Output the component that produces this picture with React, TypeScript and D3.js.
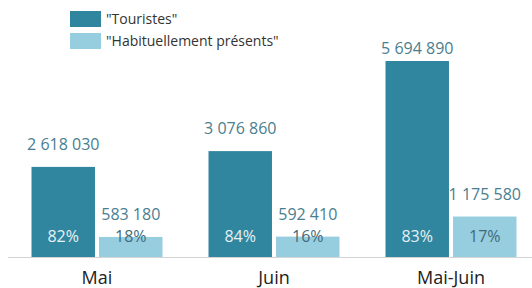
// Grouped bars: Touristes vs Habituellement présents, per month
import React, { useEffect, useRef } from 'react';
import * as d3 from 'd3';

const categories = ['Mai', 'Juin', 'Mai-Juin'];
const series = ['"Touristes"', '"Habituellement présents"'];
const touristes = [2618030, 3076860, 5694890];
const habituels = [583180, 592410, 1175580];
const pctTouristes = ['82%', '84%', '83%'];
const pctHabituels = ['18%', '16%', '17%'];

const colors = ['#31869f', '#96cddf'];
const fmt = (v: number) => d3.format(',')(v).replace(/,/g, ' ');

const App: React.FC = () => {
  const svgRef = useRef<SVGSVGElement>(null);

  useEffect(() => {
    const svg = d3.select(svgRef.current);
    svg.selectAll('*').remove();

    const width = 532;
    const height = 288;
    const baseY = 257;
    const font = '"Open Sans", sans-serif';

    const x = d3
      .scaleBand<string>()
      .domain(categories)
      .range([8.5, 539.5])
      .paddingInner(0.26)
      .paddingOuter(0.13);

    const xInner = d3
      .scaleBand<number>()
      .domain([0, 1])
      .range([0, x.bandwidth()])
      .paddingInner(0.06);

    const y = d3.scaleLinear().domain([0, 6000000]).range([baseY, 50.5]);

    svg.attr('width', width).attr('height', height);

    // baseline
    svg
      .append('line')
      .attr('x1', 8)
      .attr('x2', width)
      .attr('y1', baseY + 0.5)
      .attr('y2', baseY + 0.5)
      .attr('stroke', '#d4d4d4')
      .attr('stroke-width', 1);

    const groups = svg
      .selectAll('g.grp')
      .data(categories)
      .join('g')
      .attr('class', 'grp')
      .attr('transform', (d) => `translate(${x(d)},0)`);

    [touristes, habituels].forEach((vals, s) => {
      groups
        .append('rect')
        .attr('x', xInner(s)!)
        .attr('width', xInner.bandwidth())
        .attr('y', (_, i) => y(vals[i]))
        .attr('height', (_, i) => baseY - y(vals[i]))
        .attr('fill', colors[s]);

      // value above bar (kept under the legend area)
      groups
        .append('text')
        .attr('x', xInner(s)! + xInner.bandwidth() / 2)
        .attr('y', (_, i) => Math.max(y(vals[i]) - 17, 54))
        .attr('text-anchor', 'middle')
        .style('font-family', font)
        .style('font-size', '16px')
        .style('fill', '#4a7e8f')
        .text((_, i) => fmt(vals[i]));

      const pcts = s === 0 ? pctTouristes : pctHabituels;
      groups
        .append('text')
        .attr('x', xInner(s)! + xInner.bandwidth() / 2)
        .attr('y', baseY - 15)
        .attr('text-anchor', 'middle')
        .style('font-family', font)
        .style('font-size', '16px')
        .style('fill', s === 0 ? '#e6f1f5' : '#3f6b79')
        .text((_, i) => pcts[i]);
    });

    // category labels
    groups
      .append('text')
      .attr('x', x.bandwidth() / 2)
      .attr('y', 284)
      .attr('text-anchor', 'middle')
      .style('font-family', font)
      .style('font-size', '18px')
      .style('fill', '#222')
      .text((d) => d);

    // legend
    const legend = svg
      .selectAll('g.leg')
      .data(series)
      .join('g')
      .attr('class', 'leg')
      .attr('transform', (_, i) => `translate(70, ${11 + i * 22})`);

    legend
      .append('rect')
      .attr('width', 31)
      .attr('height', 16)
      .attr('fill', (_, i) => colors[i]);

    legend
      .append('text')
      .attr('x', 36)
      .attr('y', 13)
      .style('font-family', font)
      .style('font-size', '14px')
      .style('fill', '#333')
      .text((d) => d);
  }, []);

  return (
    <div style={{ position: 'absolute', left: 0, top: 0 }}>
      <svg ref={svgRef}></svg>
    </div>
  );
};

export default App;
